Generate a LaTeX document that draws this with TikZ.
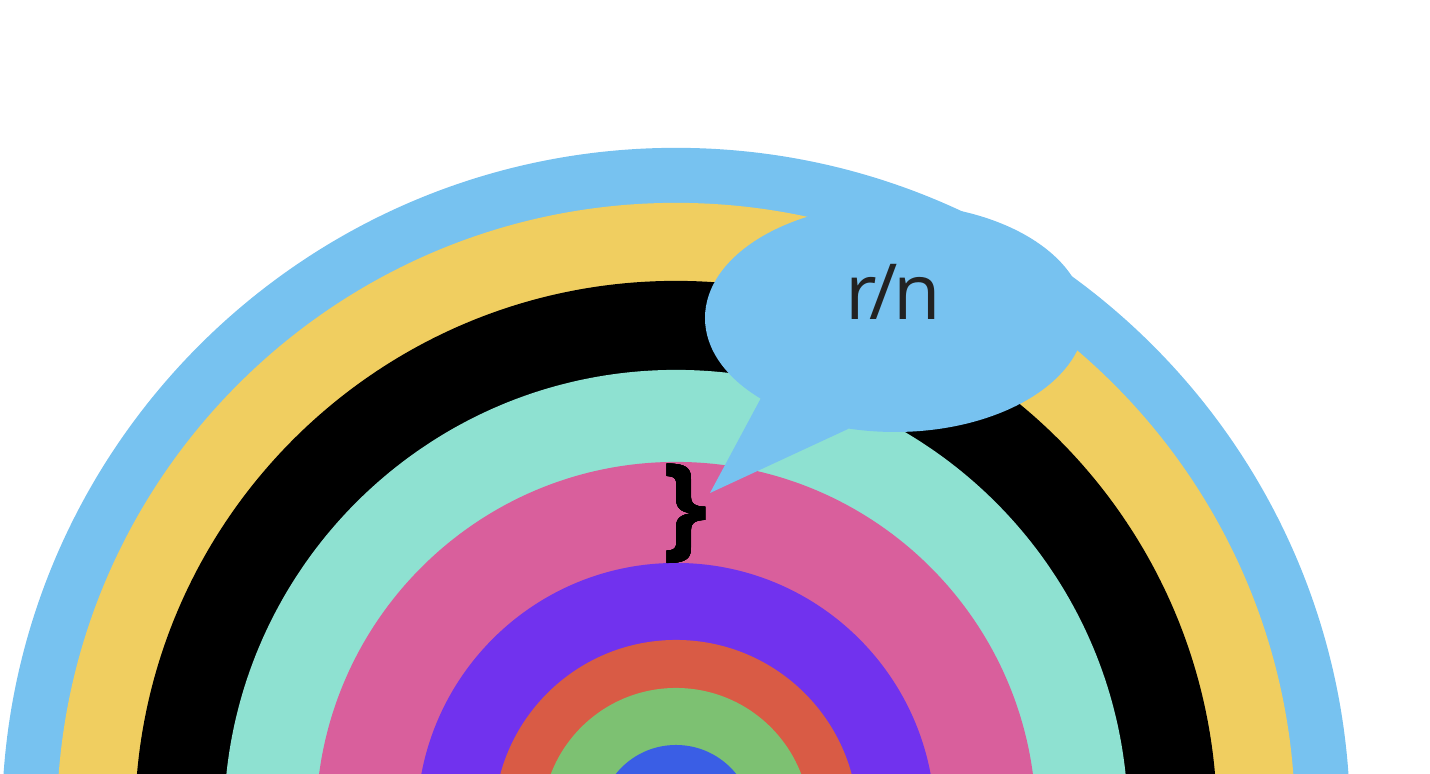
\documentclass[tikz,border=0pt]{standalone}
\usepackage{fontspec}
\setmainfont{Open Sans}
\usepackage{tikz}
\usetikzlibrary{positioning, shapes.geometric}
\definecolor{ringSky}{HTML}{77C2F0}
\definecolor{ringSand}{HTML}{F0CE60}
\definecolor{ringInk}{HTML}{000000}
\definecolor{ringMint}{HTML}{8EE1D1}
\definecolor{ringRose}{HTML}{D95F9C}
\definecolor{ringViolet}{HTML}{7132EE}
\definecolor{ringBrick}{HTML}{D95B45}
\definecolor{ringLeaf}{HTML}{7DC172}
\definecolor{ringCobalt}{HTML}{3A5EE5}
\definecolor{labelInk}{HTML}{222222}
\newcommand{\ringdisc}[2]{%
  \fill[#2] (0,0) circle ({#1*0.02});}

\begin{document}
\begin{tikzpicture}
    \useasboundingbox (-13.52,0.96) rectangle (15.08,16.44);
    \clip (-13.52,0.96) rectangle (15.08,16.44);
    % ---- concentric rings (radii in px) ----
    \foreach \r/\c in {674/ringSky,619/ringSand,541/ringInk,452/ringMint,
                       360/ringRose,259/ringViolet,182/ringBrick,134/ringLeaf,77/ringCobalt}
      \ringdisc{\r}{\c}
    % ---- one ring width ----
    \node[font=\fontsize{65}{68}\selectfont\bfseries, text=black, inner sep=0pt]
      (brace) at (0.19,6.17) {\}};
    % ---- speech bubble ----
    \node[ellipse, fill=ringSky, minimum width=7.6cm, minimum height=4.56cm, inner sep=0pt]
      (bubble) at (4.38,10.08) {};
    \coordinate (tip) at (0.68,6.58);
    \fill[ringSky] (1.70,8.48) -- (tip) -- (3.44,7.86) -- (bubble.center) -- cycle;
    \node[font=\fontsize{44}{46}\selectfont, text=labelInk, anchor=base, inner sep=0pt]
      (ratio) at (4.35,10.04) {r\kern-0.1em/\kern-0.06em n};
  \end{tikzpicture}
\end{document}
